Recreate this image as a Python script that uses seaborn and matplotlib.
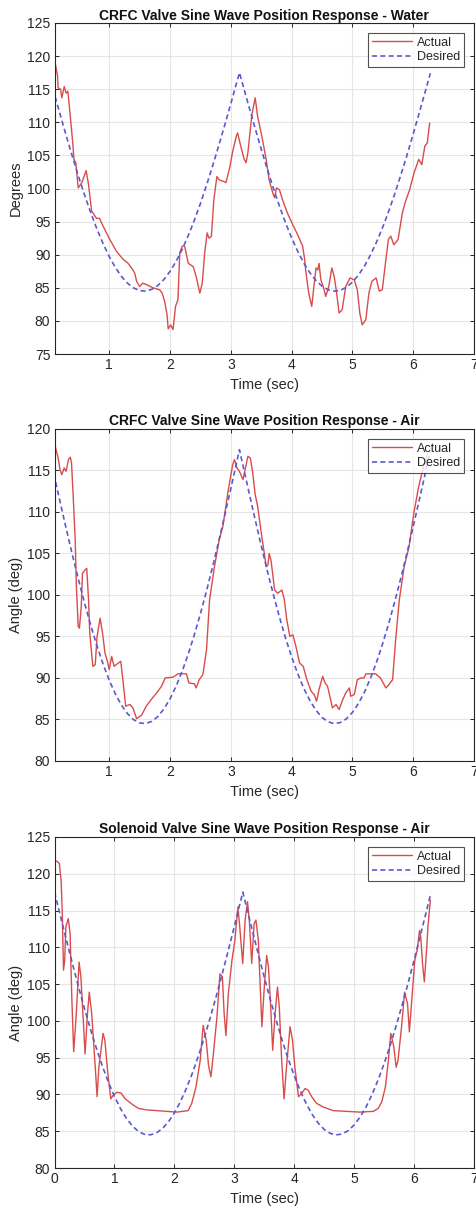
import matplotlib
matplotlib.use("Agg")
import matplotlib.pyplot as plt
import seaborn as sns
import pandas as pd

# ---------------- data ----------------
desired_t = [0.0, 0.1, 0.2, 0.3, 0.4, 0.5, 0.6, 0.7, 0.8, 0.9, 1.0, 1.1, 1.2, 1.3, 1.4, 1.5,
             1.6, 1.7, 1.8, 1.9, 2.0, 2.1, 2.2, 2.3, 2.4, 2.5, 2.6, 2.7, 2.8, 2.9, 3.0, 3.1,
             3.1416, 3.2, 3.3, 3.4, 3.5, 3.6, 3.7, 3.8, 3.9, 4.0, 4.1, 4.2, 4.3, 4.4, 4.5,
             4.6, 4.7, 4.8, 4.9, 5.0, 5.1, 5.2, 5.3, 5.4, 5.5, 5.6, 5.7, 5.8, 5.9, 6.0,
             6.1, 6.2, 6.28]
desired_v = [117.5, 114.21, 110.94, 107.75, 104.65, 101.68, 98.87, 96.24, 93.83, 91.65,
             89.73, 88.09, 86.74, 85.70, 84.98, 84.58, 84.51, 84.77, 85.36, 86.27, 87.49,
             89.01, 90.82, 92.89, 95.21, 97.75, 100.49, 103.40, 106.45, 109.61, 112.84,
             116.13, 117.5, 115.57, 112.30, 109.07, 105.92, 102.90, 100.02, 97.31, 94.80,
             92.53, 90.50, 88.74, 87.27, 86.10, 85.24, 84.71, 84.50, 84.63, 85.08, 85.86,
             86.95, 88.34, 90.03, 92.00, 94.22, 96.67, 99.33, 102.17, 105.16, 108.28,
             111.49, 114.76, 117.4]

water_t = [0.10, 0.11, 0.15, 0.16, 0.20, 0.22, 0.26, 0.29, 0.32, 0.36, 0.40, 0.42, 0.45, 0.49,
           0.55, 0.62, 0.66, 0.71, 0.79, 0.84, 0.90, 1.01, 1.12, 1.23, 1.31, 1.39, 1.42, 1.45,
           1.50, 1.55, 1.61, 1.72, 1.83, 1.87, 1.91, 1.95, 1.97, 2.01, 2.05, 2.09, 2.13, 2.16,
           2.20, 2.24, 2.30, 2.38, 2.43, 2.49, 2.53, 2.57, 2.61, 2.64, 2.68, 2.72, 2.77, 2.81,
           2.87, 2.92, 2.98, 3.03, 3.09, 3.11, 3.15, 3.19, 3.22, 3.25, 3.28, 3.32, 3.35, 3.40,
           3.44, 3.52, 3.58, 3.63, 3.69, 3.72, 3.75, 3.80, 3.85, 3.93, 4.02, 4.10, 4.18, 4.21,
           4.23, 4.28, 4.33, 4.36, 4.40, 4.43, 4.45, 4.48, 4.52, 4.56, 4.61, 4.66, 4.70, 4.74,
           4.78, 4.83, 4.89, 4.96, 5.03, 5.08, 5.12, 5.16, 5.22, 5.27, 5.32, 5.39, 5.44, 5.49,
           5.55, 5.59, 5.63, 5.68, 5.75, 5.82, 5.87, 5.94, 6.01, 6.09, 6.14, 6.19, 6.23, 6.27]
water_v = [119.5, 119.0, 117.0, 115.2, 115.0, 113.7, 115.4, 114.4, 114.7, 110.9, 106.9, 104.4,
           103.9, 100.1, 100.9, 102.7, 100.6, 96.6, 95.5, 95.5, 94.3, 92.3, 90.5, 89.3, 88.7,
           87.7, 87.2, 86.0, 85.2, 85.7, 85.5, 85.0, 84.7, 84.2, 83.0, 81.0, 78.8, 79.4, 78.7,
           82.2, 83.2, 90.3, 91.3, 91.3, 88.7, 88.2, 86.7, 84.2, 85.7, 90.3, 93.3, 92.5, 92.8,
           98.3, 101.8, 101.3, 101.1, 100.9, 103.1, 105.6, 107.9, 108.4, 106.9, 105.4, 104.4,
           103.9, 105.4, 108.9, 111.4, 113.7, 110.9, 107.4, 104.4, 101.3, 99.3, 98.6, 100.1,
           99.8, 98.3, 96.3, 94.5, 93.0, 91.3, 89.5, 87.7, 84.2, 82.2, 84.7, 88.0, 87.7, 88.7,
           86.2, 85.2, 83.7, 85.2, 88.0, 86.7, 84.2, 81.2, 81.7, 85.2, 86.5, 86.2, 84.7, 81.2,
           79.4, 80.2, 84.2, 86.0, 86.5, 84.5, 84.7, 89.3, 92.3, 92.8, 91.5, 92.3, 96.3, 98.0,
           99.8, 102.3, 104.4, 103.6, 106.4, 106.9, 109.9]

air_t = [0.10, 0.125, 0.16, 0.19, 0.22, 0.26, 0.29, 0.33, 0.36, 0.38, 0.41, 0.44, 0.46, 0.49,
         0.51, 0.54, 0.56, 0.60, 0.63, 0.66, 0.68, 0.73, 0.77, 0.80, 0.85, 0.89, 0.93, 0.97,
         1.00, 1.04, 1.08, 1.15, 1.19, 1.23, 1.27, 1.34, 1.39, 1.45, 1.53, 1.61, 1.69, 1.78,
         1.86, 1.92, 2.05, 2.13, 2.27, 2.31, 2.40, 2.43, 2.48, 2.54, 2.60, 2.65, 2.73, 2.81,
         2.87, 2.95, 3.03, 3.06, 3.10, 3.14, 3.20, 3.24, 3.28, 3.32, 3.36, 3.40, 3.44, 3.50,
         3.55, 3.58, 3.61, 3.63, 3.66, 3.72, 3.77, 3.84, 3.88, 3.92, 3.97, 4.02, 4.07, 4.13,
         4.19, 4.25, 4.32, 4.37, 4.41, 4.45, 4.51, 4.55, 4.59, 4.64, 4.67, 4.73, 4.78, 4.84,
         4.89, 4.95, 4.97, 5.03, 5.08, 5.14, 5.19, 5.22, 5.38, 5.46, 5.55, 5.60, 5.66, 5.71,
         5.77, 5.85, 5.93, 6.01, 6.09, 6.17, 6.23]
air_v = [118.3, 117.5, 116.5, 115.1, 114.5, 115.3, 114.9, 116.3, 116.6, 115.9, 111.5, 106.7,
         101.0, 96.2, 96.0, 98.6, 102.6, 103.0, 103.2, 99.4, 95.4, 91.4, 91.6, 95.0, 97.2,
         95.4, 93.0, 92.0, 91.0, 92.6, 91.4, 91.8, 92.0, 89.4, 86.6, 86.8, 86.4, 85.1, 85.5,
         86.6, 87.4, 88.2, 89.0, 90.0, 90.1, 90.5, 90.5, 89.4, 89.3, 88.8, 89.8, 90.4, 93.4,
         99.4, 103.4, 106.7, 108.3, 112.3, 115.7, 116.3, 115.3, 114.9, 113.9, 115.3, 116.7,
         116.5, 114.7, 112.1, 110.7, 107.5, 105.0, 103.4, 103.6, 105.0, 104.2, 100.6, 100.2,
         100.6, 99.4, 97.0, 95.0, 95.2, 93.8, 91.8, 91.4, 89.8, 88.4, 88.0, 87.2, 88.6, 90.2,
         89.4, 89.0, 87.4, 86.4, 86.8, 86.2, 87.4, 88.2, 88.8, 87.8, 88.0, 89.8, 90.0, 90.0,
         90.5, 90.5, 90.0, 88.8, 89.2, 89.8, 94.6, 99.4, 103.4, 105.8, 109.9, 113.1, 115.5,
         116.9]

sol_t = [0.00, 0.04, 0.08, 0.11, 0.13, 0.15, 0.17, 0.19, 0.23, 0.26, 0.29, 0.32, 0.36, 0.41,
         0.44, 0.48, 0.51, 0.55, 0.58, 0.62, 0.68, 0.71, 0.74, 0.81, 0.84, 0.89, 0.94, 0.98,
         1.04, 1.11, 1.18, 1.29, 1.40, 1.54, 1.71, 1.87, 2.04, 2.23, 2.29, 2.36, 2.43, 2.48,
         2.53, 2.57, 2.61, 2.65, 2.71, 2.76, 2.80, 2.83, 2.86, 2.90, 2.96, 3.01, 3.06, 3.09,
         3.14, 3.18, 3.22, 3.25, 3.29, 3.33, 3.36, 3.40, 3.46, 3.50, 3.54, 3.57, 3.61, 3.64,
         3.68, 3.72, 3.75, 3.79, 3.83, 3.87, 3.93, 3.97, 4.01, 4.07, 4.12, 4.18, 4.23, 4.29,
         4.37, 4.48, 4.65, 4.87, 5.09, 5.32, 5.40, 5.46, 5.52, 5.57, 5.61, 5.66, 5.70, 5.73,
         5.79, 5.84, 5.89, 5.92, 5.96, 6.01, 6.05, 6.09, 6.11, 6.14, 6.17, 6.21, 6.23, 6.27]
sol_v = [121.7, 121.7, 121.4, 119.1, 114.6, 106.9, 108.2, 112.8, 113.9, 111.9, 102.8, 95.8,
         100.5, 108.0, 106.0, 100.1, 95.5, 101.0, 103.9, 101.0, 93.7, 89.7, 93.7, 98.3, 97.4,
         92.8, 89.4, 89.9, 90.3, 90.2, 89.4, 88.7, 88.1, 87.9, 87.8, 87.7, 87.6, 87.8, 88.8,
         91.0, 94.6, 99.4, 97.4, 93.9, 92.4, 95.5, 100.5, 106.4, 106.0, 101.0, 98.0, 103.7,
         108.2, 111.0, 115.5, 112.8, 107.8, 113.7, 116.2, 113.7, 107.8, 113.2, 113.7, 111.0,
         99.2, 104.6, 108.9, 107.3, 101.4, 96.0, 101.0, 104.6, 101.9, 94.6, 89.4, 93.7, 99.2,
         97.4, 93.7, 89.7, 90.1, 90.8, 90.6, 89.7, 88.8, 88.3, 87.8, 87.7, 87.6, 87.7, 88.1,
         89.0, 91.0, 94.6, 98.3, 96.5, 93.7, 94.6, 99.2, 103.9, 102.3, 98.5, 102.8, 108.2,
         109.6, 112.3, 111.4, 107.8, 105.3, 110.0, 112.8, 116.4]

titles = ["CRFC Valve Sine Wave Position Response - Water",
          "CRFC Valve Sine Wave Position Response - Air",
          "Solenoid Valve Sine Wave Position Response - Air"]
ylabels = ["Degrees", "Angle (deg)", "Angle (deg)"]
xlabel = "Time (sec)"
legend_labels = ["Actual", "Desired"]
ylims = [(75, 125), (80, 120), (80, 125)]
xlims = [(0.1, 7), (0.1, 7), (0, 7)]
xticks = [[1, 2, 3, 4, 5, 6, 7], [1, 2, 3, 4, 5, 6, 7], [0, 1, 2, 3, 4, 5, 6, 7]]

# ---------------- styling ----------------
sns.set_theme(style="whitegrid")
plt.rcParams["font.family"] = ["Liberation Sans", "DejaVu Sans"]

RED = "#d94c4c"
BLUE = "#5a5ad0"

fig = plt.figure(figsize=(4.76, 12.10), dpi=100)
positions = [
    [0.1145, 0.7074, 0.8815, 0.2736],
    [0.1145, 0.3711, 0.8815, 0.2744],
    [0.1145, 0.0347, 0.8815, 0.2736],
]
actuals = [(water_t, water_v), (air_t, air_v), (sol_t, sol_v)]

for i in range(3):
    ax = fig.add_axes(positions[i])
    at, av = actuals[i]
    df_a = pd.DataFrame({"t": at, "v": av})
    df_d = pd.DataFrame({"t": desired_t, "v": desired_v})
    sns.lineplot(data=df_a, x="t", y="v", ax=ax, color=RED, linewidth=1.0,
                 sort=False, estimator=None, label=legend_labels[0])
    sns.lineplot(data=df_d, x="t", y="v", ax=ax, color=BLUE, linewidth=1.2,
                 sort=False, estimator=None, label=legend_labels[1], linestyle=(0, (3, 2)))
    ax.set_xlim(*xlims[i])
    ax.set_ylim(*ylims[i])
    ax.set_xticks(xticks[i])
    lo, hi = ylims[i]
    ax.set_yticks(list(range(lo, hi + 1, 5)))
    ax.set_facecolor("white")
    ax.grid(True, color="#e6e6e6", linewidth=0.8)
    for s in ax.spines.values():
        s.set_color("#262626")
        s.set_linewidth(0.8)
    ax.tick_params(axis="both", which="both", direction="in", length=3, width=0.7,
                   colors="#262626", labelsize=10, top=True, right=True,
                   bottom=True, left=True, pad=3)
    ax.set_title(titles[i], fontsize=10, fontweight="bold", color="#111111", pad=2.5)
    ax.set_xlabel(xlabel, fontsize=10.5, color="#262626", labelpad=4.5)
    ax.set_ylabel(ylabels[i], fontsize=10.5, color="#262626", labelpad=3)
    leg = ax.legend(loc="upper right", fontsize=9, handlelength=3.2, frameon=True,
                    fancybox=False, borderpad=0.3, labelspacing=0.2,
                    handletextpad=0.4, borderaxespad=0.8)
    leg.get_frame().set_edgecolor("#262626")
    leg.get_frame().set_linewidth(0.8)

fig.savefig("out.png", dpi=100)
